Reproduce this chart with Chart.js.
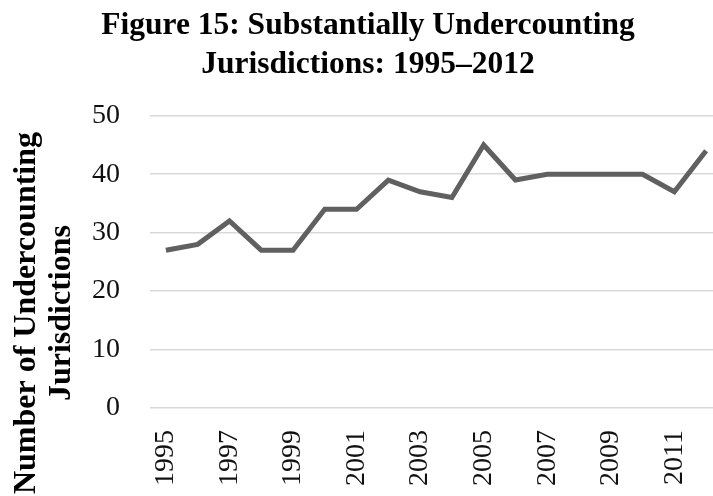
<!DOCTYPE html>
<html>
<head>
<meta charset="utf-8">
<script src="https://cdn.jsdelivr.net/npm/chart.js@4"></script>
<style>
  html, body { margin: 0; padding: 0; background: #fff; overflow: hidden; }
  #clip { width: 713px; height: 496px; overflow: hidden; }
  #wrap { position: relative; width: 736px; height: 516px; }
</style>
</head>
<body>
<div id="clip"><div id="wrap"><canvas id="myChart"></canvas></div></div>
<script>
// data
const years = ['1995', '1996', '1997', '1998', '1999', '2000', '2001', '2002', '2003',
               '2004', '2005', '2006', '2007', '2008', '2009', '2010', '2011', '2012'];
const undercounting = [27, 28, 32, 27, 27, 34, 34, 39, 37, 36, 45, 39, 40, 40, 40, 40, 37, 44];
const titleLines = ['Figure 15: Substantially Undercounting', 'Jurisdictions: 1995–2012'];
const yTitleLines = ['Number of Undercounting', 'Jurisdictions'];

const serif = "'Liberation Serif', 'Times New Roman', serif";

// y axis title, drawn rotated and centred lower than the plot (like the original)
const yTitlePlugin = {
    id: 'yTitle',
    afterDraw(chart) {
        const ctx = chart.ctx;
        const area = chart.chartArea;
        const cy = area.bottom - 95;
        const xs = [area.left - 123, area.left - 88];
        ctx.save();
        ctx.font = 'bold 32px ' + serif;
        ctx.fillStyle = '#000';
        ctx.textAlign = 'center';
        ctx.textBaseline = 'middle';
        yTitleLines.forEach((line, i) => {
            ctx.save();
            ctx.translate(xs[i], cy);
            ctx.rotate(-Math.PI / 2);
            ctx.fillText(line, 0, 0);
            ctx.restore();
        });
        ctx.restore();
    }
};

function createChart() {
    const ctx = document.getElementById('myChart').getContext('2d');
    new Chart(ctx, {
        type: 'line',
        data: {
            labels: years,
            datasets: [{
                label: 'Undercounting jurisdictions',
                data: undercounting,
                borderColor: '#606060',
                backgroundColor: '#606060',
                borderWidth: 5,
                pointRadius: 0,
                tension: 0,
                fill: false
            }]
        },
        options: {
            responsive: true,
            maintainAspectRatio: false,
            animation: false,
            layout: { padding: { left: 14, right: 14, top: 0, bottom: 8 } },
            plugins: {
                legend: { display: false },
                tooltip: { enabled: false },
                title: {
                    display: true,
                    text: titleLines,
                    color: '#000',
                    font: { family: serif, size: 31.5, weight: 'bold', lineHeight: 1.25 },
                    padding: { top: 6, bottom: 31 }
                }
            },
            scales: {
                x: {
                    offset: true,
                    afterFit: (scale) => { scale.paddingLeft = 0; scale.paddingRight = 0; },
                    grid: { display: false, drawTicks: false },
                    border: { display: false },
                    ticks: {
                        autoSkip: false,
                        maxRotation: 90,
                        minRotation: 90,
                        padding: 22,
                        color: '#111',
                        font: { family: serif, size: 28 },
                        callback: function (value, index) {
                            return index % 2 === 0 ? this.getLabelForValue(value) : '';
                        }
                    }
                },
                y: {
                    min: 0,
                    max: 50,
                    afterFit: (scale) => { scale.width = 136; },
                    grid: { color: '#d9d9d9', lineWidth: 1.5, drawTicks: true, tickLength: 30, tickColor: 'rgba(0,0,0,0)' },
                    border: { display: false },
                    ticks: {
                        stepSize: 10,
                        padding: 0,
                        color: '#111',
                        font: { family: serif, size: 28 }
                    }
                }
            }
        },
        plugins: [yTitlePlugin]
    });
}

window.onload = createChart;
</script>
</body>
</html>
